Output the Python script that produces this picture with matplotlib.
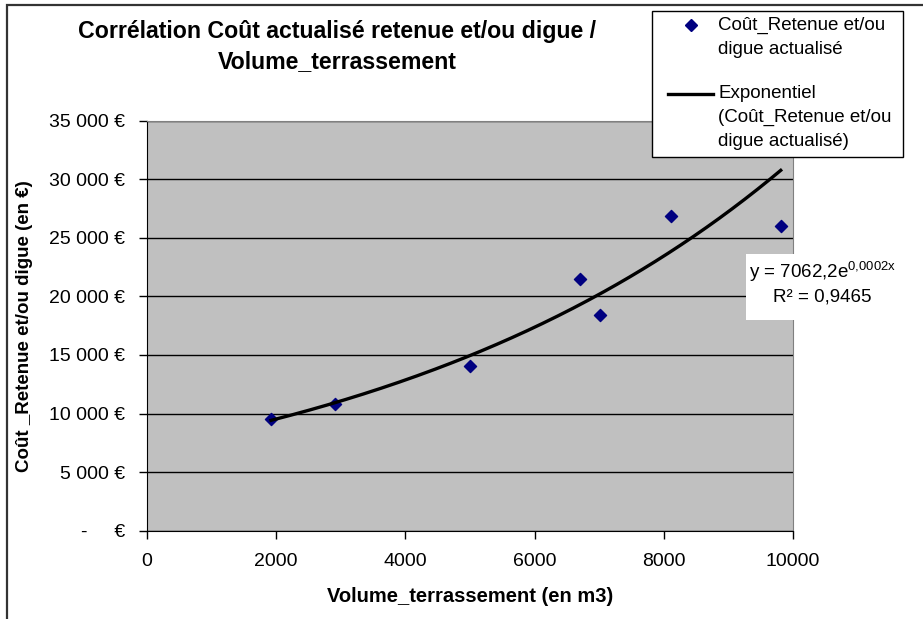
import numpy as np
import matplotlib
matplotlib.use('Agg')
import matplotlib.pyplot as plt
from matplotlib.lines import Line2D
from matplotlib.patches import Rectangle
from matplotlib.ticker import FuncFormatter

plt.rcParams['font.family'] = ['Liberation Sans', 'DejaVu Sans']
plt.rcParams['mathtext.fontset'] = 'custom'
plt.rcParams['mathtext.rm'] = 'Liberation Sans'

# Data
volume = [1920, 2910, 5000, 6700, 7010, 8110, 9810]
cout = [9550, 10800, 14050, 21500, 18450, 26850, 26050]
y_ticks = [0, 5000, 10000, 15000, 20000, 25000, 30000, 35000]
x_ticks = [0, 2000, 4000, 6000, 8000, 10000]

# Exponential trendline y = a*e^(b*x): a from the label, b
TREND_A = 7062.2
TREND_B = 0.00015
trend_x = np.linspace(min(volume), max(volume), 200)
trend_y = TREND_A * np.exp(TREND_B * trend_x)

W, H = 923, 619
fig = plt.figure(figsize=(W / 100, H / 100), dpi=100)
fig.patch.set_facecolor('white')

def fx(px):
    return px / W

def fy(py):
    return 1 - py / H

# outer chart border (only top/left visible in the original)
fig.add_artist(Rectangle((fx(6.5), -0.2), 1.5, 1.2 - 4.5 / H, transform=fig.transFigure,
                         fill=False, edgecolor='#333333', linewidth=1.6))

ax = fig.add_axes([fx(147), fy(530.7), (793 - 147) / W, (530.7 - 120.7) / H])
ax.set_facecolor('#C0C0C0')
ax.set_xlim(0, 10000)
ax.set_ylim(0, 35000)
ax.set_xticks(x_ticks)
ax.set_yticks(y_ticks)

def euro_fmt(v, pos):
    if v == 0:
        return '-     €'
    return '{:,.0f} €'.format(v).replace(',', ' ')

ax.yaxis.set_major_formatter(FuncFormatter(euro_fmt))
ax.tick_params(axis='both', direction='out', length=6, width=1, color='black', labelsize=14)
ax.tick_params(axis='y', pad=10)
ax.tick_params(axis='x', pad=10)
ax.grid(axis='y', color='black', linewidth=1)
ax.set_axisbelow(True)
for side in ['top', 'right']:
    ax.spines[side].set_color('#808080')
for side in ['left', 'bottom']:
    ax.spines[side].set_color('black')

ax.scatter(volume, cout, marker='D', s=38, color='#000080', zorder=3)
ax.plot(trend_x, trend_y, color='black', linewidth=2.4, zorder=4)

ax.set_xlabel('Volume_terrassement (en m3)', fontsize=14.5, fontweight='bold')
ax.set_ylabel('Coût _Retenue et/ou digue (en €)', fontsize=13.5, fontweight='bold')
ax.xaxis.set_label_coords(0.5, -0.138)
ax.yaxis.set_label_coords(-0.176, 0.5)

fig.text(fx(337), fy(46.5), 'Corrélation Coût actualisé retenue et/ou digue /\nVolume_terrassement',
         ha='center', va='center', fontsize=16.7, fontweight='bold', linespacing=1.35)

# legend box, drawn the way Excel lays it out (handle on the first text line)
fig.add_artist(Rectangle((fx(651.7), fy(156.7)), (903 - 651.7) / W, (156.7 - 10.7) / H,
                         transform=fig.transFigure, facecolor='white', edgecolor='black',
                         linewidth=1, zorder=5))
fig.add_artist(Line2D([fx(691)], [fy(25)], marker='D', markersize=6.2, color='#000080',
                      linestyle='none', transform=fig.transFigure, zorder=6))
fig.add_artist(Line2D([fx(668), fx(713)], [fy(94), fy(94)], color='black', linewidth=2.4,
                      transform=fig.transFigure, zorder=6))
legend_lines = [('Coût_Retenue et/ou', 25), ('digue actualisé', 50),
                ('Exponentiel', 94), ('(Coût_Retenue et/ou', 117.5), ('digue actualisé)', 141)]
for txt, py in legend_lines:
    fig.text(fx(718), fy(py), txt, ha='left', va='center', fontsize=13.5, zorder=7)

# trendline equation label
fig.add_artist(Rectangle((fx(746), fy(320)), (905 - 746) / W, (320 - 254) / H,
                         transform=fig.transFigure, facecolor='white', edgecolor='none', zorder=5))
fig.text(fx(749), fy(272), 'y = 7062,2e$\\mathregular{^{0{,}0002x}}$', ha='left', va='center',
         fontsize=13.5, zorder=7)
fig.text(fx(773), fy(297), 'R² = 0,9465', ha='left', va='center', fontsize=13.5, zorder=7)

fig.savefig('out.png', dpi=100)
